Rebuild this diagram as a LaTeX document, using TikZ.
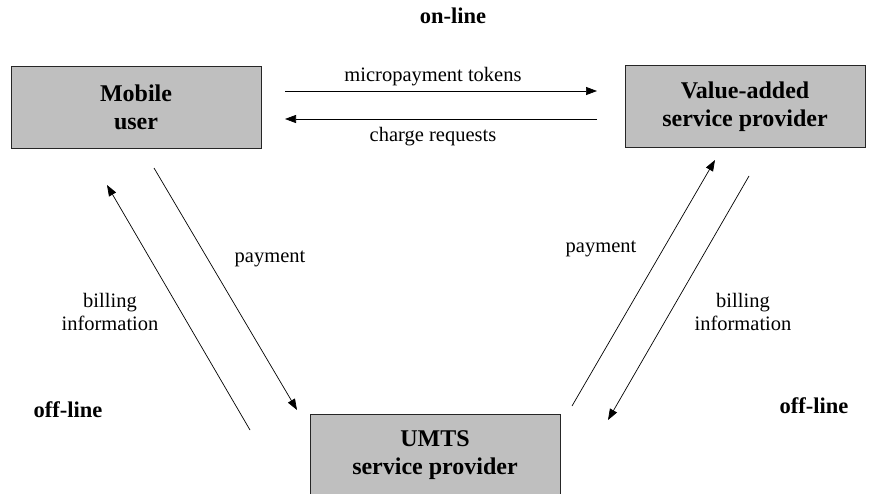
\documentclass[tikz,border=0pt]{standalone}
\usepackage{fontspec}
\setmainfont{Liberation Serif}
\usetikzlibrary{arrows.meta}
\begin{document}
\begin{tikzpicture}[x=1pt,y=-1pt,
  box/.style={draw=black!85,line width=0.9pt,fill=black!25,minimum width=250pt,minimum height=82pt,
    align=center,inner sep=0pt,font=\fontsize{24}{28}\selectfont\bfseries},
  lbl/.style={inner sep=0pt,anchor=base,font=\fontsize{20.5}{23}\selectfont},
  lbl2/.style={inner sep=0pt,align=center,font=\fontsize{20.5}{23}\selectfont},
  mode/.style={inner sep=0pt,anchor=base,font=\fontsize{22.5}{26}\selectfont\bfseries},
  flow/.style={line width=0.7pt,-{Triangle[length=11pt,width=8pt]}}]
\useasboundingbox (0,0) rectangle (869,493);
% boxes
\node[box] (mu) at (136,107) {Mobile\\user};
\node[box,minimum width=240pt] (vas) at (745,106.5) {Value-added\\service provider};
\node[box] (umts) at (435,455) {UMTS\\service provider};
% endpoints
\coordinate (t1) at (285,91);  \coordinate (t2) at (597,91);
\coordinate (c1) at (597,119); \coordinate (c2) at (285,119);
\coordinate (lp1) at (154,168); \coordinate (lp2) at (297,410);
\coordinate (lb1) at (250,430); \coordinate (lb2) at (107,185);
\coordinate (rp1) at (572,406); \coordinate (rp2) at (715,160);
\coordinate (rb1) at (749,176); \coordinate (rb2) at (608,420);
% connectors
\draw[flow] (t1) -- (t2);
\draw[flow] (c1) -- (c2);
\draw[flow] (lp1) -- (lp2);
\draw[flow] (lb1) -- (lb2);
\draw[flow] (rp1) -- (rp2);
\draw[flow] (rb1) -- (rb2);
% labels
\node[lbl] (lmt) at (433,81) {micropayment tokens};
\node[lbl] (lcr) at (433,141) {charge requests};
\node[lbl] (lpl) at (270,262) {payment};
\node[lbl2] (lbl) at (110,311.5) {billing\\information};
\node[lbl] (lpr) at (601,252) {payment};
\node[lbl2] (lbr) at (743,311.5) {billing\\information};
\node[mode] (on) at (453,23) {on-line};
\node[mode] (offl) at (68,417) {off-line};
\node[mode] (offr) at (814,413) {off-line};
\end{tikzpicture}
\end{document}
